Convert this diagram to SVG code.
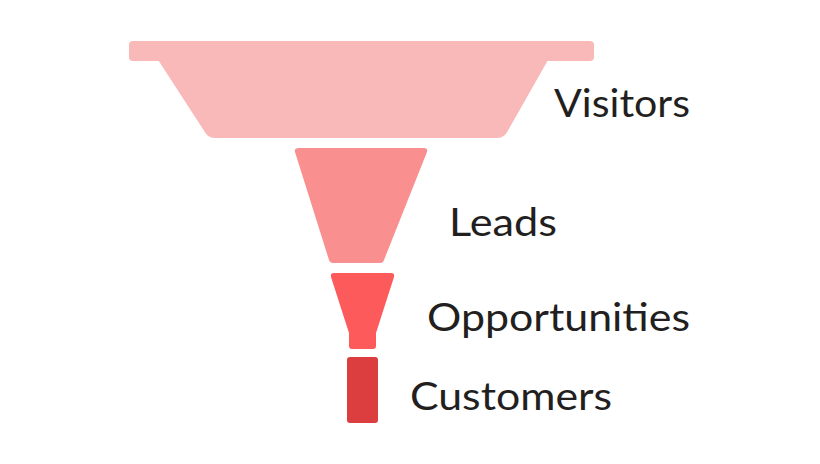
<svg xmlns="http://www.w3.org/2000/svg" width="820" height="464" viewBox="0 0 820 464">
<style>
text{font-family:Lato,"Open Sans",sans-serif;font-size:39px;fill:#231f20}
</style>
<rect width="820" height="464" fill="#fff"/>
<g id="visitors">
<rect x="129" y="41" width="465" height="20" rx="4" fill="#f9b9b9"/>
<path d="M158 58 L548 58 L506 132 Q503 137 497 137 L215 137 Q209 137 206 132 Z" fill="#f9b9b9" stroke="#f9b9b9" stroke-width="2" stroke-linejoin="round"/>
<text x="554" y="117" textLength="136" lengthAdjust="spacingAndGlyphs">Visitors</text>
</g>
<g id="leads">
<path d="M299 148 L424 148 Q428 148 427 152 L384 260 Q383 263 380 263 L333 263 Q330 263 329 260 L295 152 Q294 148 299 148 Z" fill="#f98f8f"/>
<text x="449" y="236" textLength="108" lengthAdjust="spacingAndGlyphs">Leads</text>
</g>
<g id="opportunities">
<path d="M334 273 L391 273 Q395 273 394 277 L376 333 L376 346 Q376 349 373 349 L352 349 Q349 349 349 346 L349 333 L331 277 Q330 273 334 273 Z" fill="#fd5a5c"/>
<text x="427" y="331" textLength="263" lengthAdjust="spacingAndGlyphs">Opportunities</text>
</g>
<g id="customers">
<rect x="347" y="357" width="31" height="66" rx="3" fill="#dc3e40"/>
<text x="410" y="410" textLength="202" lengthAdjust="spacingAndGlyphs">Customers</text>
</g>
<g id="connectors"/>
</svg>
